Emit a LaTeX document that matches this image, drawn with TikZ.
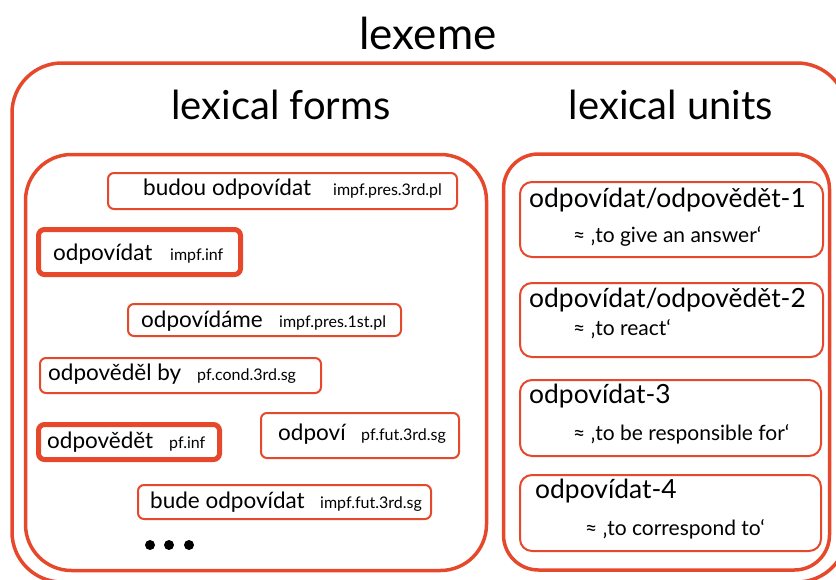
\documentclass[tikz,border=0pt]{standalone}
\usepackage{fontspec}
\setmainfont{Lato}
\usetikzlibrary{positioning}
\definecolor{lexred}{RGB}{230,72,44}
\newcommand{\lexform}[3]{\makebox[#1][l]{#2}{\fontsize{16}{19}\selectfont #3}}

\begin{document}
\begin{tikzpicture}[x=1pt,y=-1pt,
  bigbox/.style={draw=lexred,line width=3.5pt,rounded corners=46pt},
  formbox/.style={draw=lexred,line width=2pt,rounded corners=6pt,anchor=north west,inner sep=0pt,outer sep=0pt},
  infbox/.style={formbox,line width=5pt},
  unitbox/.style={draw=lexred,line width=2pt,rounded corners=12pt,anchor=north west,inner sep=0pt,outer sep=0pt},
  heading/.style={font=\fontsize{40}{48}\selectfont,anchor=base,inner sep=0pt},
  formtext/.style={font=\fontsize{22.5}{27}\selectfont,anchor=base west,inner sep=0pt},
  unittitle/.style={font=\fontsize{26.4}{31}\selectfont,anchor=base west,inner sep=0pt},
  gloss/.style={font=\fontsize{21}{25}\selectfont,anchor=base west,inner sep=0pt}]
\useasboundingbox (0,0) rectangle (836,579);
\clip (0,0) rectangle (836,579);

% lexeme
\node[heading,font=\fontsize{44}{53}\selectfont] (lexeme) at (428,49) {lexeme};
\draw[bigbox,rounded corners=50pt] (12,63) rectangle (847,582);

% lexical forms
\node[heading] (forms) at (281,119) {lexical forms};
\draw[bigbox] (25.5,154.5) rectangle (486.5,570.5);

\node[formbox,minimum width=349,minimum height=36] (f1) at (108,173) {};
\node[formtext] (w1) at (143,195) {\lexform{190pt}{budou odpovídat}{impf.pres.3rd.pl}};
\node[infbox,minimum width=202,minimum height=45] (f2) at (38.5,229.5) {};
\node[formtext] (w2) at (53,260) {\lexform{117pt}{odpovídat}{impf.inf}};
\node[formbox,minimum width=273,minimum height=32] (f3) at (128,304) {};
\node[formtext] (w3) at (141,327) {\lexform{138pt}{odpovídáme}{impf.pres.1st.pl}};
\node[formbox,minimum width=281,minimum height=35] (f4) at (40,358) {};
\node[formtext] (w4) at (48,380) {\lexform{149pt}{odpověděl by}{pf.cond.3rd.sg}};
\node[infbox,minimum width=181,minimum height=35] (f5) at (38.5,424.5) {};
\node[formtext] (w5) at (47,448) {\lexform{122pt}{odpovědět}{pf.inf}};
\node[formbox,minimum width=198,minimum height=45] (f6) at (261,413) {};
\node[formtext] (w6) at (278,440) {\lexform{83pt}{odpoví}{pf.fut.3rd.sg}};
\node[formbox,minimum width=293,minimum height=34] (f7) at (138,485) {};
\node[formtext] (w7) at (150,508) {\lexform{170pt}{bude odpovídat}{impf.fut.3rd.sg}};
\foreach \x in {150,169,189}
  \fill (\x,545) circle (5pt);

% lexical units
\node[heading] (units) at (671,119) {lexical units};
\draw[bigbox,rounded corners=35pt] (503.5,154) rectangle (829.5,570);

\node[unitbox,minimum width=303,minimum height=75] (u1) at (520,182) {};
\node[unittitle] (n1) at (529,207) {odpovídat/odpovědět-1};
\node[gloss] (g1) at (573,242) {≈ ‚to give an answer‘};
\node[unitbox,minimum width=303,minimum height=74] (u2) at (520,283) {};
\node[unittitle] (n2) at (529,307) {odpovídat/odpovědět-2};
\node[gloss] (g2) at (573,335) {≈ ‚to react‘};
\node[unitbox,minimum width=301,minimum height=76] (u3) at (520,380) {};
\node[unittitle] (n3) at (529,403) {odpovídat-3};
\node[gloss] (g3) at (573,440) {≈ ‚to be responsible for‘};
\node[unitbox,minimum width=301,minimum height=76] (u4) at (520,475) {};
\node[unittitle] (n4) at (535,498) {odpovídat-4};
\node[gloss] (g4) at (585,535) {≈ ‚to correspond to‘};
\end{tikzpicture}
\end{document}
